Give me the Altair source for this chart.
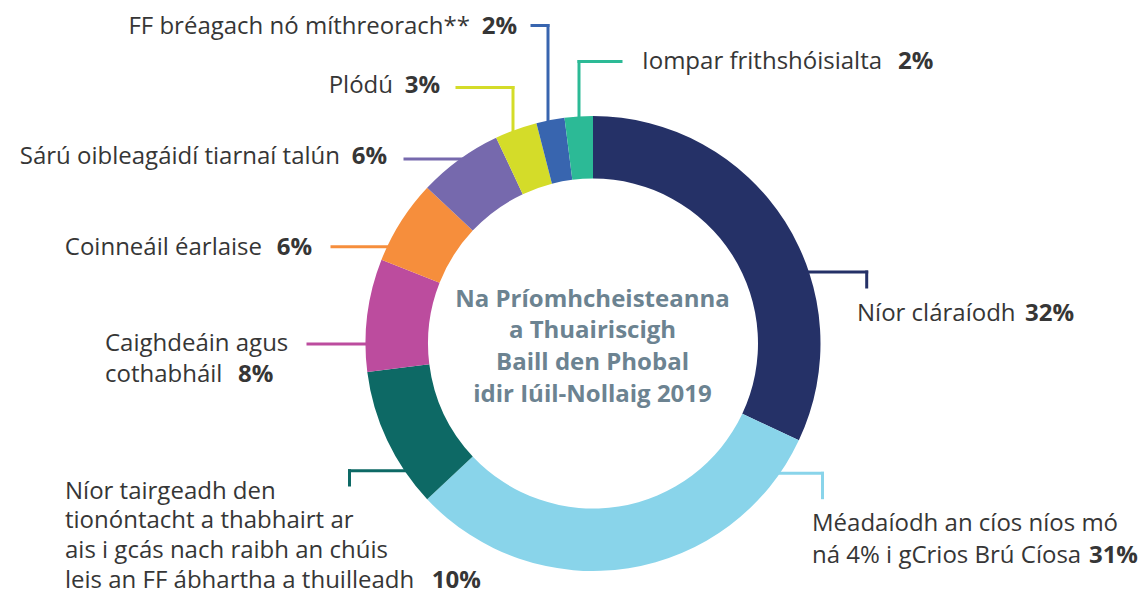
import altair as alt
import pandas as pd

# ---------------- data ----------------
categories = [
    "Níor cláraíodh",
    "Méadaíodh an cíos",
    "Níor tairgeadh den tionóntacht",
    "Caighdeáin agus cothabháil",
    "Coinneáil éarlaise",
    "Sárú oibleagáidí tiarnaí talún",
    "Plódú",
    "FF bréagach nó míthreorach**",
    "Iompar frithshóisialta",
]
values = [32, 31, 10, 8, 6, 6, 3, 2, 2]
label_lines = [
    ["Níor cláraíodh"],
    ["Méadaíodh an cíos níos mó", "ná 4% i gCrios Brú Cíosa"],
    ["Níor tairgeadh den", "tionóntacht a thabhairt ar",
     "ais i gcás nach raibh an chúis", "leis an FF ábhartha a thuilleadh"],
    ["Caighdeáin agus", "cothabháil"],
    ["Coinneáil éarlaise"],
    ["Sárú oibleagáidí tiarnaí talún"],
    ["Plódú"],
    ["FF bréagach nó míthreorach**"],
    ["Iompar frithshóisialta"],
]
center_lines = ["Na Príomhcheisteanna", "a Thuairiscigh", "Baill den Phobal",
                "idir Iúil-Nollaig 2019"]

# ---------------- styles ----------------
colors = ["#253167", "#89D4EA", "#0D6965", "#BC4C9E", "#F68E3C",
          "#7669AD", "#D4DC29", "#3865AF", "#2CBA96"]
FONT = "Open Sans"
TEXT_COLOR = "#363636"
CENTER_COLOR = "#6C8391"

# ---------------- layout (page pixel coordinates) ----------------
W, H = 1130, 589
CX, CY = 593, 343.5
R_OUT, R_IN = 227.5, 165

# label layout: text anchor x, first baseline, line step, text align, pct x, pct align
label_layout = {
    "Níor cláraíodh": (857, 320.7, 0, "left", 1025, "left"),
    "Méadaíodh an cíos": (812, 531, 32, "left", 1138, "right"),
    "Níor tairgeadh den tionóntacht": (65, 498.5, 29.8, "left", 431.7, "left"),
    "Caighdeáin agus cothabháil": (105, 350.7, 31.6, "left", 238, "left"),
    "Coinneáil éarlaise": (262, 255, 0, "right", 312, "right"),
    "Sárú oibleagáidí tiarnaí talún": (340, 164.3, 0, "right", 387, "right"),
    "Plódú": (393, 93.3, 0, "right", 440, "right"),
    "FF bréagach nó míthreorach**": (470, 34, 0, "right", 517, "right"),
    "Iompar frithshóisialta": (642, 68.5, 0, "left", 898, "left"),
}
# leader segments: list of (x1, y1, x2, y2)
leader_layout = {
    "Níor cláraíodh": [(803, 272, 866.7, 272), (866.7, 272, 866.7, 287)],
    "Méadaíodh an cíos": [(774, 473.3, 822.5, 473.3), (822.5, 473.3, 822.5, 497.7)],
    "Níor tairgeadh den tionóntacht": [(349.5, 470.7, 411, 470.7), (349.5, 470.7, 349.5, 485)],
    "Caighdeáin agus cothabháil": [(308, 344, 373, 344)],
    "Coinneáil éarlaise": [(332, 246.7, 395, 246.7)],
    "Sárú oibleagáidí tiarnaí talún": [(405, 159, 467, 159)],
    "Plódú": [(457, 87.5, 513, 87.5), (513, 87.5, 513, 134)],
    "FF bréagach nó míthreorach**": [(532, 25.5, 548, 25.5), (548, 25.5, 548, 123)],
    "Iompar frithshóisialta": [(621, 61.5, 579, 61.5), (579, 61.5, 579, 120)],
}
center_baselines = [306.7, 338.3, 370, 401.7]
CENTER_X = 592.5

# ---------------- build tables ----------------
slice_df = pd.DataFrame({"cat": categories, "value": values,
                         "idx": list(range(len(categories)))})

seg_rows = []
for c in categories:
    for (x1, y1, x2, y2) in leader_layout[c]:
        seg_rows.append({"cat": c, "x1": x1, "y1": y1, "x2": x2, "y2": y2})
seg_df = pd.DataFrame(seg_rows)

txt_rows = []
pct_rows = []
for c, v, lines in zip(categories, values, label_lines):
    tx, ty, step, talign, px, palign = label_layout[c]
    for i, line in enumerate(lines):
        txt_rows.append({"x": tx, "y": ty + i * step, "text": line, "align": talign})
    pct_rows.append({"x": px, "y": ty + (len(lines) - 1) * step,
                     "text": f"{v}%", "align": palign})
txt_df = pd.DataFrame(txt_rows)
pct_df = pd.DataFrame(pct_rows)
center_df = pd.DataFrame({"x": [CENTER_X] * len(center_lines),
                          "y": center_baselines, "text": center_lines})

xs = alt.Scale(domain=[8, 8 + W], nice=False, zero=False)
ys = alt.Scale(domain=[8, 8 + H], nice=False, zero=False, reverse=True)
color_scale = alt.Scale(domain=categories, range=colors)

leaders = alt.Chart(seg_df).mark_rule(strokeWidth=3, strokeCap="square").encode(
    x=alt.X("x1:Q", scale=xs, axis=None),
    y=alt.Y("y1:Q", scale=ys, axis=None),
    x2="x2:Q", y2="y2:Q",
    color=alt.Color("cat:N", scale=color_scale, legend=None),
)

donut = alt.Chart(slice_df).mark_arc(innerRadius=R_IN, outerRadius=R_OUT).encode(
    theta=alt.Theta("value:Q", stack=True),
    order=alt.Order("idx:Q"),
    color=alt.Color("cat:N", scale=color_scale, legend=None),
    x=alt.value(CX - 8), y=alt.value(CY - 8),
)


def text_layer(df, align, weight, color):
    return alt.Chart(df).mark_text(
        align=align, baseline="alphabetic", font=FONT, fontSize=24,
        fontWeight=weight, color=color,
    ).encode(
        x=alt.X("x:Q", scale=xs, axis=None),
        y=alt.Y("y:Q", scale=ys, axis=None),
        text="text:N",
    )


layers = [leaders, donut]
for al in ["left", "right"]:
    sub = txt_df[txt_df["align"] == al]
    if len(sub):
        layers.append(text_layer(sub, al, "normal", TEXT_COLOR))
    sub = pct_df[pct_df["align"] == al]
    if len(sub):
        layers.append(text_layer(sub, al, "bold", TEXT_COLOR))
layers.append(text_layer(center_df, "center", "bold", CENTER_COLOR))

chart = alt.layer(*layers).properties(
    width=W, height=H, padding=0,
    autosize=alt.AutoSizeParams(type="none"),
).configure_view(stroke=None)

chart.save("out.html", embed_options={"renderer": "svg", "actions": False})
